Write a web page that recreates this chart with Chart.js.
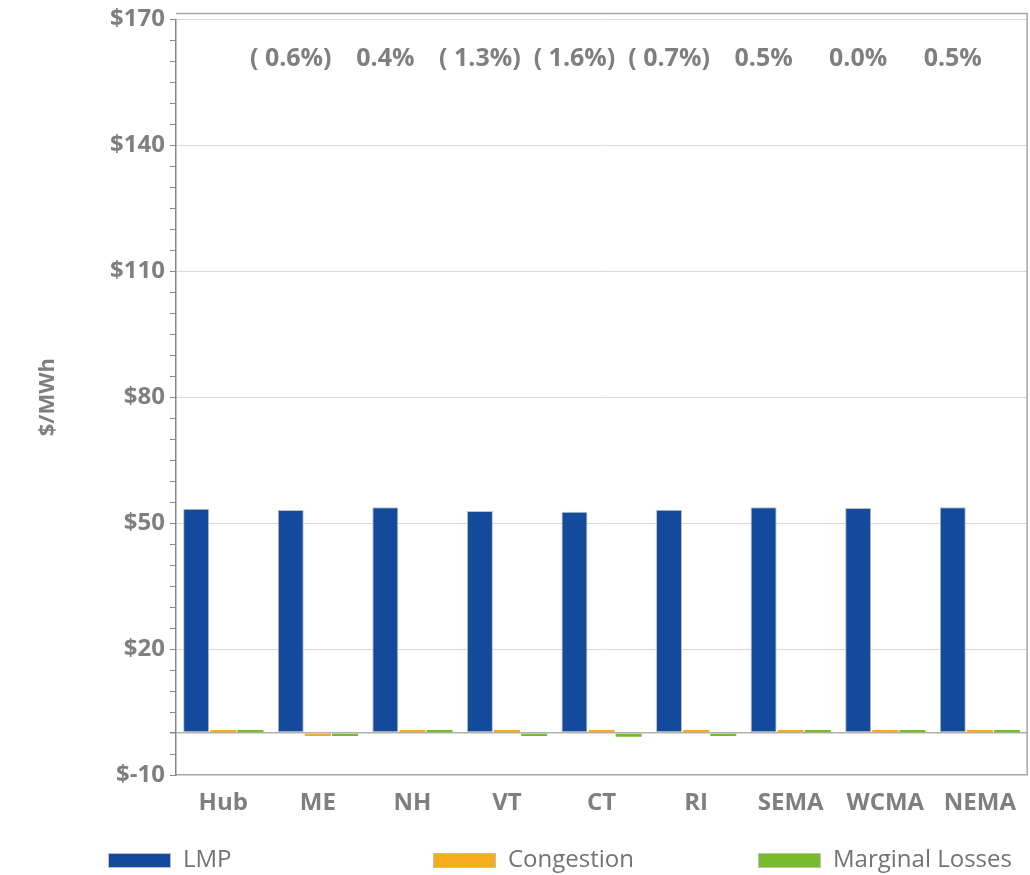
<!DOCTYPE html>
<html>
<head>
<meta charset="utf-8">
<script src="https://cdn.jsdelivr.net/npm/chart.js@4/dist/chart.umd.min.js"></script>
<style>
  html, body { margin: 0; padding: 0; background: #fff; }
  #wrap { width: 1030px; height: 875px; }
</style>
</head>
<body>
<div id="wrap"><canvas id="lmpChart" width="1030" height="875"></canvas></div>
<script>
// zones and $/MWh components
const zones = ["Hub", "ME", "NH", "VT", "CT", "RI", "SEMA", "WCMA", "NEMA"];
const lmp = [53.4, 53.1, 53.8, 52.9, 52.7, 53.2, 53.8, 53.6, 53.8];
const congestion = [0.02, -0.05, 0.03, 0.02, 0.02, 0.03, 0.02, 0.02, 0.03];
const marginalLosses = [0.05, -0.1, 0.25, -0.7, -0.9, -0.3, 0.35, 0.1, 0.4];
// % difference vs hub, shown above each zone
const pctLabels = ["", "( 0.6%)", "0.4%", "( 1.3%)", "( 1.6%)", "( 0.7%)", "0.5%", "0.0%", "0.5%"];
const yTicks = [-10, 20, 50, 80, 110, 140, 170];

const seriesNames = ["LMP", "Congestion", "Marginal Losses"];
const seriesColors = ["#134a9c", "#f7ab1e", "#78bb2c"];

const grey = "#7f7f7f";
const FONT = "'Open Sans', sans-serif";

const pctPlugin = {
  id: "pctLabels",
  afterDatasetsDraw(chart) {
    const ctx = chart.ctx;
    const meta = chart.getDatasetMeta(0);
    const y = chart.scales.y.getPixelForValue(160.5);
    ctx.save();
    ctx.font = "bold 25px " + FONT;
    ctx.fillStyle = grey;
    ctx.textAlign = "center";
    ctx.textBaseline = "middle";
    meta.data.forEach((bar, i) => {
      if (pctLabels[i]) ctx.fillText(pctLabels[i], bar.x, y);
    });
    ctx.restore();
  }
};

const borderPlugin = {
  id: "plotBorder",
  afterDraw(chart) {
    const a = chart.chartArea;
    const ctx = chart.ctx;
    ctx.save();
    ctx.strokeStyle = "#a6a6a6";
    ctx.lineWidth = 1.5;
    ctx.beginPath();
    ctx.moveTo(a.left, a.top - 6);
    ctx.lineTo(a.right, a.top - 6);
    ctx.lineTo(a.right, a.bottom);
    ctx.stroke();
    ctx.restore();
  }
};

const legendPlugin = {
  id: "slotLegend",
  afterDraw(chart) {
    const ctx = chart.ctx;
    ctx.save();
    ctx.font = "24px " + FONT;
    ctx.textBaseline = "middle";
    seriesNames.forEach((name, i) => {
      const x = 108 + i * 325;
      const y = 860;
      ctx.fillStyle = seriesColors[i];
      ctx.fillRect(x, y - 7, 63, 15);
      ctx.strokeStyle = "#bfbfbf";
      ctx.lineWidth = 1;
      ctx.strokeRect(x + 0.5, y - 6.5, 62, 14);
      ctx.fillStyle = "#737373";
      ctx.fillText(name, x + 75, y);
    });
    ctx.restore();
  }
};

const barStyle = i => ({
  borderColor: i === 0 ? "#c0c0c0" : seriesColors[i],
  borderWidth: i === 0 ? 1 : 0,
  borderSkipped: false,
  minBarLength: i === 0 ? 0 : 3,
  categoryPercentage: 0.86,
  barPercentage: 0.96
});

new Chart(document.getElementById("lmpChart"), {
  type: "bar",
  data: {
    labels: zones,
    datasets: [
      Object.assign({ label: seriesNames[0], data: lmp, backgroundColor: seriesColors[0] }, barStyle(0)),
      Object.assign({ label: seriesNames[1], data: congestion, backgroundColor: seriesColors[1] }, barStyle(1)),
      Object.assign({ label: seriesNames[2], data: marginalLosses, backgroundColor: seriesColors[2] }, barStyle(2))
    ]
  },
  options: {
    responsive: false,
    animation: false,
    layout: { padding: { top: 14, right: 1, left: 0, bottom: 0 } },
    plugins: {
      legend: { display: false },
      tooltip: { enabled: false }
    },
    scales: {
      x: {
        grid: { display: false, drawTicks: false },
        border: { color: "#a6a6a6", width: 1.5 },
        ticks: { color: grey, font: { family: FONT, size: 24, weight: "bold" }, padding: 14 },
        afterFit(s) { s.height = 100; }
      },
      y: {
        min: -10,
        max: 170,
        border: { color: "#868686", width: 1.5 },
        grid: {
          color: c => {
            const v = c.tick ? c.tick.value : null;
            if (v === 0) return "#b0b0b0";
            if (v !== -10 && yTicks.includes(v)) return "#d9d9d9";
            return "rgba(0,0,0,0)";
          },
          lineWidth: c => (c.tick && c.tick.value === 0 ? 1.5 : 1),
          tickColor: "#868686",
          tickLength: 6
        },
        ticks: {
          stepSize: 5,
          autoSkip: false,
          color: grey,
          padding: 5,
          font: { family: FONT, size: 24, weight: "bold" },
          callback: v => (yTicks.includes(v) ? "$" + v : "")
        },
        title: {
          display: true,
          text: "$/MWh",
          color: grey,
          font: { family: FONT, size: 22, weight: "bold" },
          padding: { top: 35, bottom: 0 }
        },
        afterFit(s) { s.width = 176; }
      }
    }
  },
  plugins: [pctPlugin, borderPlugin, legendPlugin]
});
</script>
</body>
</html>
